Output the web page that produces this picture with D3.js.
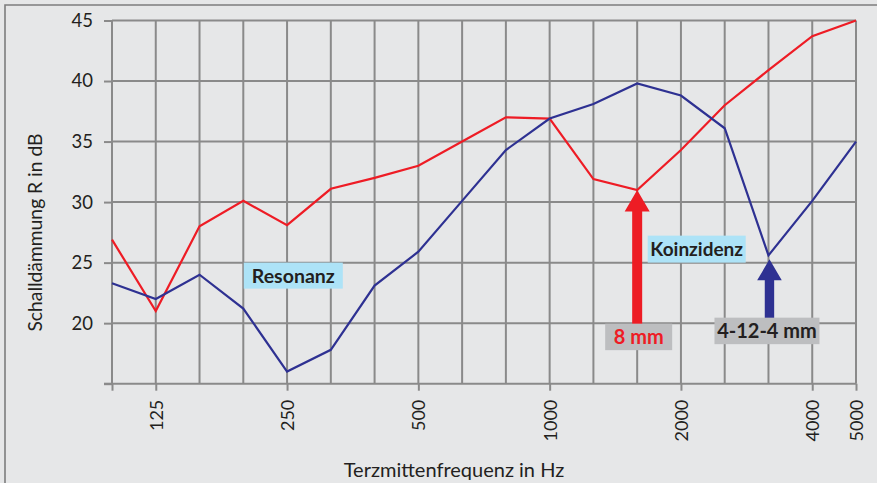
<!DOCTYPE html>
<html>
<head>
<meta charset="utf-8">
<script src="https://cdn.jsdelivr.net/npm/d3@7"></script>
<style>
  html, body { margin: 0; padding: 0; background: #e6e7e8; }
  svg { display: block; }
  text { font-family: Lato, "Open Sans", sans-serif; fill: #231f20; }
</style>
</head>
<body>
<svg id="chart" width="877" height="483"></svg>
<script>
// Third-octave centre frequencies (Hz)
const bands = ["100","125","160","200","250","315","400","500","630","800","1000","1250","1600","2000","2500","3150","4000","5000"];
// Bands that carry a tick mark below the axis, and those that get a label
const tickBands = ["100","125","250","500","1000","2000","4000","5000"];
const labelBands = ["125","250","500","1000","2000","4000","5000"];
// Sound reduction index R in dB
const single8mm = [26.9, 21.0, 28.0, 30.1, 28.1, 31.1, 32.0, 33.0, 35.0, 37.0, 36.9, 31.9, 31.0, 34.3, 38.0, 40.9, 43.7, 45.0];
const insul4124 = [23.3, 22.0, 24.0, 21.2, 16.0, 17.8, 23.1, 25.9, 30.1, 34.3, 36.9, 38.1, 39.8, 38.8, 36.1, 25.6, 30.1, 35.0];
// Level ticks
const yTicks = [15, 20, 25, 30, 35, 40, 45];
const yLabelTicks = [20, 25, 30, 35, 40, 45];

const svg = d3.select("#chart");
const W = 877, H = 483;

// Frame
svg.append("rect").attr("x", 0).attr("y", 0).attr("width", W).attr("height", H).attr("fill", "#e6e7e8");
svg.append("path").attr("d", `M5,${H} V5 H${W}`).attr("fill", "none").attr("stroke", "#7d7d7d").attr("stroke-width", 1.6);

const x = d3.scalePoint().domain(bands).range([112, 856]);
const y = d3.scaleLinear().domain([15, 45]).range([383.7, 20.5]);

const gridColor = "#8a8a8a";

// Grid
const grid = svg.append("g");
grid.selectAll("line.v").data(bands).join("line")
  .attr("x1", d => x(d)).attr("x2", d => x(d))
  .attr("y1", y(45)).attr("y2", y(15))
  .attr("stroke", gridColor).attr("stroke-width", 2);
grid.selectAll("line.h").data(yTicks).join("line")
  .attr("x1", x("100")).attr("x2", x("5000"))
  .attr("y1", d => y(d)).attr("y2", d => y(d))
  .attr("stroke", gridColor).attr("stroke-width", 2);

// Y axis
const yAxis = d3.axisLeft(y).tickValues(yTicks).tickSize(8).tickPadding(11)
  .tickFormat(d => yLabelTicks.includes(d) ? d : "");
const gy = svg.append("g").attr("transform", `translate(${x("100")},0)`).call(yAxis);
gy.select(".domain").remove();
gy.selectAll(".tick line").attr("stroke", gridColor).attr("stroke-width", 2);
gy.selectAll(".tick text").attr("font-size", 18.5).attr("fill", "#231f20")
  .style("font-family", "Lato, 'Open Sans', sans-serif");

// X axis
const xAxis = d3.axisBottom(x).tickValues(tickBands).tickSize(7).tickPadding(9)
  .tickFormat(d => labelBands.includes(d) ? d : "");
const gx = svg.append("g").attr("transform", `translate(0,${y(15)})`).call(xAxis);
gx.select(".domain").remove();
gx.selectAll(".tick line").attr("stroke", gridColor).attr("stroke-width", 2);
gx.selectAll(".tick text")
  .attr("font-size", 18).attr("fill", "#231f20")
  .style("font-family", "Lato, 'Open Sans', sans-serif")
  .attr("text-anchor", "end")
  .attr("transform", "rotate(-90)")
  .attr("x", -16).attr("y", 0).attr("dy", "0.36em");
// left stub of bottom line
svg.append("line").attr("x1", 104).attr("x2", x("100"))
  .attr("y1", y(15)).attr("y2", y(15)).attr("stroke", gridColor).attr("stroke-width", 2);

// Axis titles
svg.append("text").attr("transform", "translate(41.5,232.5) rotate(-90)")
  .attr("text-anchor", "middle").attr("font-size", 19.3).text("Schalldämmung R in dB");
svg.append("text").attr("x", 454).attr("y", 476.5)
  .attr("text-anchor", "middle").attr("font-size", 20).text("Terzmittenfrequenz in Hz");

// Series lines
const line = d3.line().x((d, i) => x(bands[i])).y(d => y(d));
svg.append("path").datum(single8mm).attr("d", line)
  .attr("fill", "none").attr("stroke", "#ee1c25").attr("stroke-width", 2.2).attr("stroke-linejoin", "miter");
svg.append("path").datum(insul4124).attr("d", line)
  .attr("fill", "none").attr("stroke", "#2e3192").attr("stroke-width", 2.2).attr("stroke-linejoin", "miter");

// Arrow helper: tip at (cx, tipY), shaft down to baseY
function arrow(cx, tipY, baseY, color, headH, headHalf, shaftHalf) {
  const hb = tipY + headH;
  svg.append("path")
    .attr("d", `M${cx},${tipY} L${cx + headHalf},${hb} L${cx + shaftHalf},${hb} L${cx + shaftHalf},${baseY}
                L${cx - shaftHalf},${baseY} L${cx - shaftHalf},${hb} L${cx - headHalf},${hb} Z`)
    .attr("fill", color);
}

// Label box helper
function labelBox(x0, y0, w, h, fill, txt, color, size) {
  svg.append("rect").attr("x", x0).attr("y", y0).attr("width", w).attr("height", h).attr("fill", fill);
  svg.append("text").attr("x", x0 + w / 2).attr("y", y0 + h / 2).attr("dy", "0.36em")
    .attr("text-anchor", "middle").attr("font-size", size).attr("font-weight", 700)
    .style("fill", color).text(txt);
}

// Coincidence dips marked with arrows
const iRed = bands.indexOf("1600");
const iBlue = bands.indexOf("3150");
arrow(x("1600"), y(single8mm[iRed]), y(20) + 1, "#ed1c24", 21.5, 12.5, 5);
arrow(x("3150") + 1, y(insul4124[iBlue]) + 4, y(20) - 5, "#2e3192", 21, 12.3, 4.7);

labelBox(x("200") + 0.5, y(25), 99, 26, "#ade3f7", "Resonanz", "#231f20", 19.5);
labelBox(647.7, y(25) - 27, 98, 27, "#ade3f7", "Koinzidenz", "#231f20", 19);
labelBox(x("1600") - 32, y(20) + 0.5, 67, 26.5, "#bdbec0", "8 mm", "#ee1c25", 20);
labelBox(x("3150") - 54, y(20) - 5.5, 105, 26.5, "#bdbec0", "4-12-4 mm", "#231f20", 20);
</script>
</body>
</html>
